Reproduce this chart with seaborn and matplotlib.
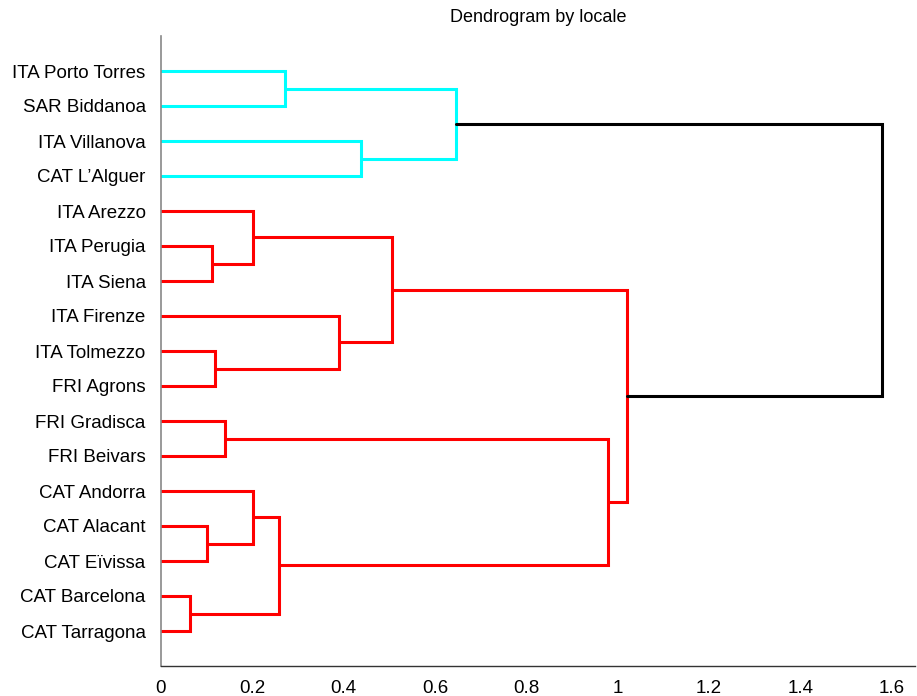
import numpy as np
import pandas as pd
import matplotlib
matplotlib.use("Agg")
import matplotlib.pyplot as plt
import seaborn as sns

# Leaf labels, listed top to bottom
labels = [
    "ITA Porto Torres", "SAR Biddanoa", "ITA Villanova", "CAT L\u2019Alguer",
    "ITA Arezzo", "ITA Perugia", "ITA Siena", "ITA Firenze", "ITA Tolmezzo",
    "FRI Agrons", "FRI Gradisca", "FRI Beivars", "CAT Andorra", "CAT Alacant",
    "CAT E\u00efvissa", "CAT Barcelona", "CAT Tarragona",
]

# Linkage: each merge joins two nodes (leaves are 0..16, new clusters 17..)
merge_left = [0, 2, 17, 5, 4, 8, 7, 21, 10, 13, 12, 15, 27, 25, 24, 19]
merge_right = [1, 3, 18, 6, 20, 9, 22, 23, 11, 14, 26, 16, 28, 29, 30, 31]
merge_height = [0.272, 0.438, 0.645, 0.111, 0.202, 0.119, 0.390, 0.506,
                0.140, 0.100, 0.202, 0.063, 0.259, 0.978, 1.020, 1.578]
merge_group = ["c1", "c1", "c1", "c2", "c2", "c2", "c2", "c2",
               "c2", "c2", "c2", "c2", "c2", "c2", "c2", "root"]

palette = {"c1": "#00FFFF", "c2": "#FF0000", "root": "#000000"}

n_leaves = len(labels)
node_y = {i: float(n_leaves - i) for i in range(n_leaves)}
node_h = {i: 0.0 for i in range(n_leaves)}

rows = []
for k, (a, b, h, g) in enumerate(zip(merge_left, merge_right, merge_height, merge_group)):
    node = n_leaves + k
    ya, yb = node_y[a], node_y[b]
    xs = [node_h[a], h, h, node_h[b]]
    ys = [ya, ya, yb, yb]
    for order, (x, y) in enumerate(zip(xs, ys)):
        rows.append({"link": k, "order": order, "height": x, "pos": y, "group": g})
    node_y[node] = (ya + yb) / 2.0
    node_h[node] = h

df = pd.DataFrame(rows)

sns.set_style("white")
plt.rcParams["font.family"] = ["Liberation Sans", "DejaVu Sans"]

fig = plt.figure(figsize=(9.17, 6.96), dpi=100)
ax = fig.add_axes([161 / 917, 30 / 696, 754 / 917, 630 / 696])

sns.lineplot(data=df, x="height", y="pos", units="link", hue="group",
             palette=palette, estimator=None, sort=False, legend=False,
             linewidth=2.2, ax=ax, solid_joinstyle="miter")

ax.set_xlim(0, 1.651)
ax.set_ylim(0, n_leaves + 1)
ax.set_xticks(np.arange(0, 1.61, 0.2))
ax.set_xticklabels(["0", "0.2", "0.4", "0.6", "0.8", "1", "1.2", "1.4", "1.6"])
ax.set_yticks([node_y[i] for i in range(n_leaves)])
ax.set_yticklabels(labels)
ax.set_xlabel("")
ax.set_ylabel("")

ax.tick_params(axis="x", direction="in", length=6, width=1, color="#333333",
               labelsize=13.5, pad=10, labelcolor="black")
ax.tick_params(axis="y", length=0, labelsize=13.5, pad=11, labelcolor="black")

for side in ("top", "right"):
    ax.spines[side].set_visible(False)
ax.spines["left"].set_color("#888888")
ax.spines["left"].set_linewidth(1.2)
ax.spines["bottom"].set_color("#333333")
ax.spines["bottom"].set_linewidth(1.0)

ax.set_title("Dendrogram by locale", fontsize=13, pad=10, color="black")

fig.savefig("out.png", dpi=100)
